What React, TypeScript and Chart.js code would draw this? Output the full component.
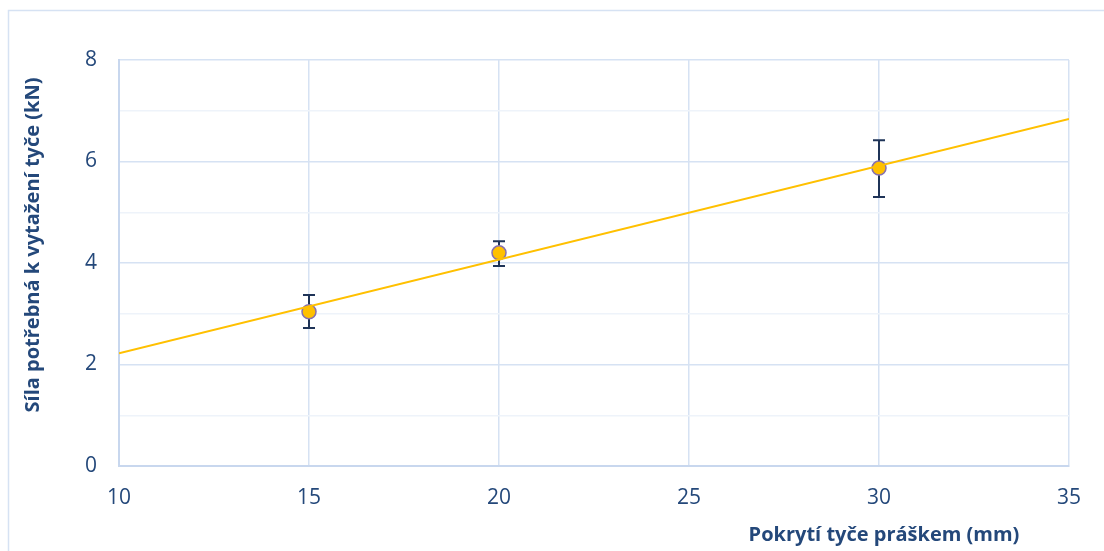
import React, { useEffect, useRef } from "react";
import { Chart, registerables } from "chart.js";

Chart.register(...registerables);

// Measured pull-out force for each powder coverage length
const coverage = [15, 20, 30];
const force = [3.04, 4.2, 5.87];
const forceLow = [2.72, 3.94, 5.3];
const forceHigh = [3.37, 4.43, 6.42];

// Linear trendline end points
const trendX = [10, 35];
const trendY = [2.22, 6.84];

const xTicks = [10, 15, 20, 25, 30, 35];
const yTicks = [0, 2, 4, 6, 8];

const xTitle = "Pokrytí tyče práškem (mm)";
const yTitle = "Síla potřebná k vytažení tyče (kN)";

const TEXT = "#24487A";
const GRID_MAJOR = "#D6E2F3";
const GRID_MINOR = "#EEF3FA";
const AXIS_LINE = "#C8D7EE";
const FONT = "'Open Sans', 'DejaVu Sans', sans-serif";

const frameAndTitles = {
  id: "frameAndTitles",
  beforeDraw(chart: any) {
    const { ctx } = chart;
    ctx.save();
    ctx.fillStyle = "#ffffff";
    ctx.fillRect(0, 0, chart.width, chart.height);
    ctx.strokeStyle = GRID_MAJOR;
    ctx.lineWidth = 1.5;
    ctx.strokeRect(8.5, 10.5, chart.width + 20, chart.height + 20);
    ctx.restore();
  },
  afterDraw(chart: any) {
    const { ctx, chartArea } = chart;
    ctx.save();
    ctx.fillStyle = TEXT;
    ctx.font = `bold 20px ${FONT}`;
    ctx.textAlign = "center";
    ctx.textBaseline = "middle";
    ctx.fillText(xTitle, chartArea.right - 185, chartArea.bottom + 69);
    ctx.translate(33, chartArea.top + 185);
    ctx.rotate(-Math.PI / 2);
    ctx.fillText(yTitle, 0, 0);
    ctx.restore();
  },
};

const errorBars = {
  id: "errorBars",
  beforeDatasetsDraw(chart: any) {
    const { ctx, scales } = chart;
    const xs = scales.x;
    const ys = scales.y;
    ctx.save();
    ctx.strokeStyle = "#1F3458";
    ctx.lineWidth = 2;
    coverage.forEach((c, i) => {
      const px = xs.getPixelForValue(c);
      const top = ys.getPixelForValue(forceHigh[i]);
      const bot = ys.getPixelForValue(forceLow[i]);
      ctx.beginPath();
      ctx.moveTo(px, top);
      ctx.lineTo(px, bot);
      ctx.moveTo(px - 6, top);
      ctx.lineTo(px + 6, top);
      ctx.moveTo(px - 6, bot);
      ctx.lineTo(px + 6, bot);
      ctx.stroke();
    });
    ctx.restore();
  },
};

export default function App() {
  const ref = useRef<HTMLCanvasElement | null>(null);

  useEffect(() => {
    if (!ref.current) return;
    const chart = new Chart(ref.current, {
      type: "scatter",
      data: {
        datasets: [
          {
            label: "Trend",
            data: trendX.map((x, i) => ({ x, y: trendY[i] })),
            showLine: true,
            borderColor: "#FFC000",
            borderWidth: 2,
            pointRadius: 0,
            fill: false,
          },
          {
            label: "Síla",
            data: coverage.map((x, i) => ({ x, y: force[i] })),
            showLine: false,
            pointRadius: 7,
            pointBackgroundColor: "#FFC000",
            pointBorderColor: "#8670AE",
            pointBorderWidth: 1.5,
          },
        ],
      },
      options: {
        animation: false,
        responsive: false,
        maintainAspectRatio: false,
        layout: { padding: { top: 60, right: 35, left: 0, bottom: 0 } },
        plugins: {
          legend: { display: false },
          tooltip: { enabled: false },
        },
        scales: {
          x: {
            type: "linear",
            min: 10,
            max: 35,
            afterBuildTicks: (s: any) => {
              s.ticks = xTicks.map((v) => ({ value: v }));
            },
            afterFit: (s: any) => {
              s.height = 85;
            },
            grid: { color: GRID_MAJOR, lineWidth: 1.5, drawTicks: false },
            border: { color: AXIS_LINE, width: 2 },
            ticks: {
              padding: 19,
              color: TEXT,
              font: { family: FONT, size: 21 },
              maxRotation: 0,
            },
          },
          y: {
            type: "linear",
            min: 0,
            max: 8,
            afterBuildTicks: (s: any) => {
              const t = [];
              for (let v = 0; v <= 8; v++) t.push({ value: v });
              s.ticks = t;
            },
            afterFit: (s: any) => {
              s.width = 119;
            },
            grid: {
              drawTicks: false,
              lineWidth: 1.5,
              color: (c: any) =>
                yTicks.includes(c.tick?.value) ? GRID_MAJOR : GRID_MINOR,
            },
            border: { color: AXIS_LINE, width: 2 },
            ticks: {
              padding: 22,
              color: TEXT,
              font: { family: FONT, size: 21 },
              callback: (v: any) => (yTicks.includes(Number(v)) ? String(v) : ""),
            },
          },
        },
      },
      plugins: [frameAndTitles, errorBars],
    });
    return () => chart.destroy();
  }, []);

  return (
    <div style={{ position: "fixed", left: 0, top: 0, width: 1104, height: 551 }}>
      <canvas ref={ref} width={1104} height={551} style={{ width: 1104, height: 551 }} />
    </div>
  );
}
